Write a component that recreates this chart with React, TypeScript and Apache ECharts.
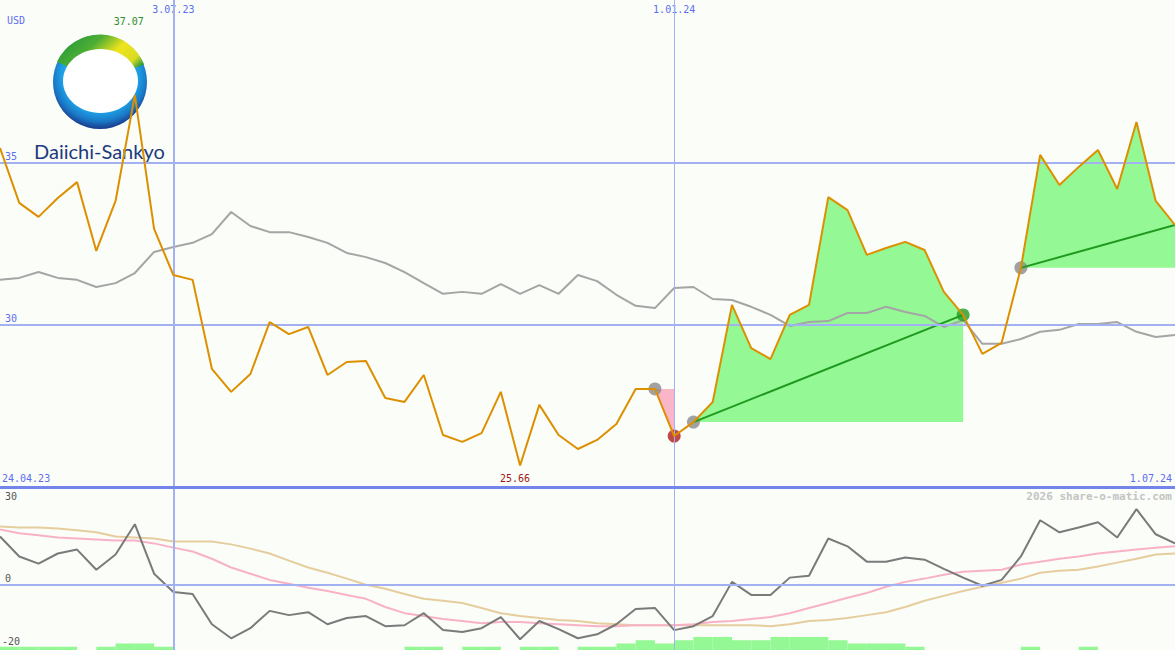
import { useEffect, useRef } from "react";
import * as echarts from "echarts";

// ---------- data ----------
const dates = [
  "1.05.23", "8.05.23", "15.05.23", "22.05.23", "29.05.23", "5.06.23", "12.06.23", "19.06.23", "26.06.23", "3.07.23",
  "10.07.23", "17.07.23", "24.07.23", "31.07.23", "7.08.23", "14.08.23", "21.08.23", "28.08.23", "4.09.23", "11.09.23",
  "18.09.23", "25.09.23", "2.10.23", "9.10.23", "16.10.23", "23.10.23", "30.10.23", "6.11.23", "13.11.23", "20.11.23",
  "27.11.23", "4.12.23", "11.12.23", "18.12.23", "25.12.23", "1.01.24", "8.01.24", "15.01.24", "22.01.24", "29.01.24",
  "5.02.24", "12.02.24", "19.02.24", "26.02.24", "4.03.24", "11.03.24", "18.03.24", "25.03.24", "1.04.24", "8.04.24",
  "15.04.24", "22.04.24", "29.04.24", "6.05.24", "13.05.24", "20.05.24", "27.05.24", "3.06.24", "10.06.24", "17.06.24",
  "24.06.24", "1.07.24",
];

const price = [
  35.44, 33.75, 33.32, 33.9, 34.39, 32.27, 33.81, 37.07, 32.95, 31.53,
  31.38, 28.64, 27.93, 28.48, 30.08, 29.71, 29.93, 28.45, 28.85, 28.88,
  27.74, 27.62, 28.45, 26.6, 26.39, 26.66, 27.93, 25.66, 27.53, 26.6,
  26.17, 26.45, 26.94, 28.02, 28.02, 26.57, 27.0, 27.62, 30.61, 29.28,
  28.94, 30.3, 30.61, 33.93, 33.53, 32.15, 32.36, 32.55, 32.3, 31.01,
  30.3, 29.1, 29.44, 31.75, 35.23, 34.3, 34.86, 35.38, 34.18, 36.24,
  33.81, 33.07,
];

const priceAverage = [
  31.38, 31.44, 31.62, 31.44, 31.38, 31.16, 31.28, 31.59, 32.24, 32.39,
  32.52, 32.79, 33.47, 33.04, 32.85, 32.85, 32.7, 32.52, 32.21, 32.08,
  31.9, 31.62, 31.28, 30.95, 31.01, 30.95, 31.25, 30.95, 31.22, 30.95,
  31.53, 31.34, 30.92, 30.58, 30.51, 31.13, 31.16, 30.79, 30.76, 30.55,
  30.3, 29.96, 30.08, 30.11, 30.36, 30.36, 30.55, 30.39, 30.27, 29.93,
  30.14, 29.41, 29.41, 29.56, 29.78, 29.84, 30.02, 30.02, 30.08, 29.78,
  29.62, 29.68,
];

const oscillator = [
  14.8, 8.7, 6.5, 9.6, 10.8, 4.6, 9.3, 18.6, 3.4, -2.2,
  -2.8, -12.1, -16.4, -13.3, -8.0, -9.3, -8.4, -12.1, -10.2, -9.6,
  -12.7, -12.4, -8.7, -13.9, -14.5, -13.3, -9.9, -16.7, -11.1, -13.6,
  -16.4, -15.2, -12.1, -7.4, -7.1, -13.9, -12.7, -9.6, 0.9, -3.1,
  -3.1, 2.2, 2.8, 14.2, 11.8, 7.1, 7.1, 8.4, 7.7, 4.9,
  2.2, -0.3, 1.5, 8.7, 19.8, 16.1, 17.6, 19.2, 14.5, 23.2,
  15.5, 12.7,
];

const oscillatorFast = [
  17.0, 15.8, 15.2, 14.5, 14.2, 13.9, 13.6, 13.6, 12.7, 11.4,
  10.2, 8.0, 5.3, 3.4, 1.5, 0.3, -0.9, -1.9, -3.1, -4.3,
  -6.8, -8.7, -9.6, -10.5, -11.1, -11.8, -11.4, -11.4, -11.8, -12.1,
  -12.4, -12.7, -12.7, -12.4, -12.4, -12.4, -12.1, -11.4, -11.1, -10.5,
  -9.9, -8.7, -7.1, -5.6, -4.0, -2.5, -0.6, 0.9, 1.9, 3.1,
  4.0, 4.3, 4.6, 6.2, 7.1, 8.0, 8.7, 9.6, 10.2, 10.8,
  11.4, 11.8,
];

const oscillatorSlow = [
  17.9, 17.6, 17.6, 17.3, 16.7, 16.1, 14.8, 14.5, 14.2, 13.3,
  13.3, 13.3, 12.4, 11.1, 9.6, 7.4, 5.3, 3.7, 1.9, 0.0,
  -1.2, -2.8, -4.3, -4.9, -5.6, -7.1, -8.7, -9.6, -10.2, -10.8,
  -11.1, -11.8, -12.1, -12.4, -12.4, -12.4, -12.4, -12.4, -12.4, -12.4,
  -12.7, -12.1, -11.1, -10.8, -10.2, -9.3, -8.4, -6.8, -4.9, -3.4,
  -1.9, -0.6, 0.6, 1.9, 3.7, 4.3, 4.6, 5.6, 6.8, 8.0,
  9.3, 9.6,
];

// one bar per week interval (between two consecutive dates)
const weeklyBars = [
  1, 1, 1, 1, 0, 1, 2, 2, 1, 0,
  0, 0, 0, 0, 0, 0, 0, 0, 0, 0,
  0, 1, 1, 0, 1, 1, 0, 1, 1, 0,
  1, 1, 2, 3, 2, 3, 4, 4, 3, 3,
  4, 4, 4, 3, 2, 2, 2, 1, 0, 0,
  0, 0, 0, 1, 0, 0, 1, 0, 0, 0,
  0,
];

const markerDates = ["3.07.23", "1.01.24"];
const sellSignal = ["25.12.23", "1.01.24"];
const buySignals = [
  ["8.01.24", "15.04.24"],
  ["6.05.24", "1.07.24"],
];
const priceAxisTicks = [25, 40, 5];
const oscAxisTicks = [-20, 30, 10];
const oscTickLabels = ["30", "0", "-20"];
const startLabel = "24.04.23";
const endLabel = "1.07.24";
const currency = "USD";
const watermark = "2026 share-o-matic.com";
const companyName = "Daiichi-Sankyo";

// ---------- styles ----------
const MONO = '"DejaVu Sans Mono", monospace';
const BLUE_TEXT = "#5b6ef0";
const GRID_BLUE = "#a3b0f2";
const SEP_BLUE = "#7384ea";
const BG = "#fbfdf9";

export default function App() {
  const ref = useRef<HTMLDivElement>(null);

  useEffect(() => {
    if (!ref.current) return;
    const chart = echarts.init(ref.current, null, { renderer: "svg" });
    const idx = (d: string) => dates.indexOf(d);
    const seg = (a: string, b: string) => {
      const i0 = idx(a);
      const i1 = idx(b);
      return price.slice(i0, i1 + 1).map((v, k) => [i0 + k, v]);
    };
    let maxIdx = 0;
    let minIdx = 0;
    price.forEach((v, i) => {
      if (v > price[maxIdx]) maxIdx = i;
      if (v < price[minIdx]) minIdx = i;
    });

    const areaSeries: any[] = [];
    const trendSeries: any[] = [];
    const dots: any[] = [];
    {
      const a = idx(sellSignal[0]);
      const b = idx(sellSignal[1]);
      areaSeries.push({
        type: "line",
        xAxisIndex: 0,
        yAxisIndex: 0,
        data: seg(sellSignal[0], sellSignal[1]),
        symbol: "none",
        lineStyle: { width: 0 },
        areaStyle: { color: "#f9b6c9", opacity: 1, origin: price[a] },
        z: 1,
        silent: true,
      });
      dots.push({ value: [a, price[a]], itemStyle: { color: "#8a8a8a" } });
      dots.push({ value: [b, price[b]], itemStyle: { color: "#b01c1c" } });
    }
    buySignals.forEach(([s, e], k) => {
      const a = idx(s);
      const b = idx(e);
      areaSeries.push({
        type: "line",
        xAxisIndex: 0,
        yAxisIndex: 0,
        data: seg(s, e),
        symbol: "none",
        lineStyle: { width: 0 },
        areaStyle: { color: "#94f894", opacity: 1, origin: price[a] },
        z: 1,
        silent: true,
      });
      trendSeries.push({
        type: "line",
        xAxisIndex: 0,
        yAxisIndex: 0,
        data: [
          [a, price[a]],
          [b, price[b]],
        ],
        symbol: "none",
        lineStyle: { color: "#1f9a1f", width: 2 },
        z: 4,
        silent: true,
      });
      dots.push({ value: [a, price[a]], itemStyle: { color: "#8a8a8a" } });
      if (k === 0) dots.push({ value: [b, price[b]], itemStyle: { color: "#239a23" } });
    });

    const vLines = markerDates.map((d, k) => ({
      xAxis: d,
      lineStyle: { color: GRID_BLUE, width: k === 0 ? 2 : 1, type: "solid" },
    }));

    const option: any = {
      animation: false,
      backgroundColor: BG,
      grid: [
        { left: 0, right: 0, top: 0, height: 487 },
        { left: 0, right: 0, top: 487, bottom: 0 },
      ],
      xAxis: [
        {
          gridIndex: 0,
          type: "category",
          data: dates,
          boundaryGap: false,
          position: "top",
          axisLine: { show: false, onZero: false },
          axisTick: { show: false },
          splitLine: { show: false },
          axisLabel: {
            inside: true,
            interval: (i: number, v: string) => markerDates.includes(v),
            color: BLUE_TEXT,
            fontFamily: MONO,
            fontSize: 10,
            margin: 4,
          },
        },
        {
          gridIndex: 1,
          type: "category",
          data: dates,
          boundaryGap: false,
          position: "top",
          axisLine: { show: true, onZero: false, lineStyle: { color: SEP_BLUE, width: 3 } },
          axisTick: { show: false },
          axisLabel: { show: false },
          splitLine: { show: false },
          z: 5,
        },
        {
          gridIndex: 1,
          type: "category",
          data: dates.slice(0, dates.length - 1),
          boundaryGap: true,
          show: false,
          axisLine: { onZero: false },
        },
      ],
      yAxis: [
        {
          gridIndex: 0,
          type: "value",
          min: priceAxisTicks[0],
          max: priceAxisTicks[1],
          interval: priceAxisTicks[2],
          axisLine: { show: false },
          axisTick: { show: false },
          splitLine: { show: false },
          axisLabel: {
            inside: true,
            showMinLabel: false,
            showMaxLabel: false,
            color: BLUE_TEXT,
            fontFamily: MONO,
            fontSize: 10,
            align: "left",
            verticalAlign: "bottom",
            margin: 5,
            padding: [0, 0, 1, 0],
          },
        },
        {
          gridIndex: 1,
          type: "value",
          min: oscAxisTicks[0],
          max: oscAxisTicks[1],
          interval: oscAxisTicks[2],
          show: false,
          splitLine: { show: false },
        },
        {
          gridIndex: 1,
          type: "value",
          min: 0,
          max: 50,
          show: false,
          splitLine: { show: false },
        },
      ],
      series: [
        {
          type: "line",
          xAxisIndex: 0,
          yAxisIndex: 0,
          data: [],
          z: 0,
          silent: true,
          markLine: {
            silent: true,
            symbol: "none",
            label: { show: false },
            data: [
              { yAxis: 30, lineStyle: { color: GRID_BLUE, width: 2, type: "solid" } },
              { yAxis: 35, lineStyle: { color: GRID_BLUE, width: 2, type: "solid" } },
              ...vLines,
            ],
          },
        },
        ...areaSeries,
        {
          type: "line",
          xAxisIndex: 0,
          yAxisIndex: 0,
          data: priceAverage,
          symbol: "none",
          lineStyle: { color: "#a5a5a5", width: 2 },
          z: 2,
          silent: true,
        },
        {
          type: "scatter",
          xAxisIndex: 0,
          yAxisIndex: 0,
          data: dots,
          symbolSize: 13,
          z: 3,
          silent: true,
        },
        ...trendSeries,
        {
          type: "line",
          xAxisIndex: 0,
          yAxisIndex: 0,
          data: price,
          symbol: "none",
          lineStyle: { color: "#dc9000", width: 2 },
          z: 5,
          silent: true,
          markPoint: {
            silent: true,
            symbol: "circle",
            symbolSize: 0,
            label: {
              show: true,
              position: "inside",
              fontFamily: MONO,
              fontSize: 10,
              formatter: (p: any) => Number(p.value).toFixed(2),
            },
            data: [
              {
                coord: [dates[maxIdx], priceAxisTicks[1]],
                value: price[maxIdx],
                label: { color: "#2e8b2e", offset: [-6, 21] },
              },
              {
                coord: [dates[minIdx], priceAxisTicks[0]],
                value: price[minIdx],
                label: { color: "#a01818", offset: [-5, -9] },
              },
            ],
          },
        },
        // lower panel
        {
          type: "line",
          xAxisIndex: 1,
          yAxisIndex: 1,
          data: [],
          z: 0,
          silent: true,
          markLine: {
            silent: true,
            symbol: "none",
            label: { show: false },
            data: [
              { yAxis: 0, lineStyle: { color: GRID_BLUE, width: 2, type: "solid" } },
              ...vLines,
            ],
          },
        },
        {
          type: "bar",
          xAxisIndex: 2,
          yAxisIndex: 2,
          data: weeklyBars,
          barWidth: "100%",
          barCategoryGap: 0,
          itemStyle: { color: "#94f894" },
          z: 1,
          silent: true,
        },
        {
          type: "line",
          xAxisIndex: 1,
          yAxisIndex: 1,
          data: oscillatorSlow,
          symbol: "none",
          lineStyle: { color: "#e6cd9e", width: 2 },
          z: 2,
          silent: true,
        },
        {
          type: "line",
          xAxisIndex: 1,
          yAxisIndex: 1,
          data: oscillatorFast,
          symbol: "none",
          lineStyle: { color: "#f8b2c8", width: 2 },
          z: 3,
          silent: true,
        },
        {
          type: "line",
          xAxisIndex: 1,
          yAxisIndex: 1,
          data: oscillator,
          symbol: "none",
          lineStyle: { color: "#7a7a7a", width: 2 },
          z: 4,
          silent: true,
        },
      ],
      graphic: [
        {
          type: "group",
          z: 1,
          silent: true,
          children: [
            {
              type: "circle",
              shape: { cx: 100, cy: 82, r: 47 },
              style: {
                fill: {
                  type: "radial",
                  x: 0.5,
                  y: 0.42,
                  r: 0.58,
                  colorStops: [
                    { offset: 0, color: "#34b0ee" },
                    { offset: 0.7, color: "#1ea0e6" },
                    { offset: 0.86, color: "#1a78c6" },
                    { offset: 1, color: "#1a3a8c" },
                  ],
                },
              },
            },
            {
              type: "sector",
              shape: {
                cx: 100,
                cy: 82,
                r0: 0,
                r: 47.5,
                startAngle: -Math.PI * 0.86,
                endAngle: -Math.PI * 0.12,
                clockwise: true,
              },
              style: {
                fill: {
                  type: "linear",
                  x: 0,
                  y: 0,
                  x2: 1,
                  y2: 0.6,
                  colorStops: [
                    { offset: 0, color: "#14913c" },
                    { offset: 0.4, color: "#4eae34" },
                    { offset: 0.65, color: "#eee41c" },
                    { offset: 0.88, color: "#dadc22" },
                    { offset: 1, color: "#2c9c3a" },
                  ],
                },
              },
            },
            {
              type: "ellipse",
              shape: { cx: 100.5, cy: 81, rx: 37.5, ry: 32 },
              style: { fill: "#ffffff" },
            },
            {
              type: "text",
              x: 34,
              y: 161,
              style: {
                text: companyName,
                font: '20px Lato, "Open Sans", sans-serif',
                fill: "#1c3a7e",
                textAlign: "left",
                textVerticalAlign: "bottom",
              },
            },
          ],
        },
        {
          type: "text",
          x: 7,
          y: 20,
          z: 6,
          silent: true,
          style: { text: currency, font: `10px ${MONO}`, fill: BLUE_TEXT, textAlign: "left", textVerticalAlign: "middle" },
        },
        {
          type: "text",
          x: 2,
          y: 478,
          z: 6,
          silent: true,
          style: { text: startLabel, font: `10px ${MONO}`, fill: BLUE_TEXT, textAlign: "left", textVerticalAlign: "middle" },
        },
        {
          type: "text",
          x: 1172,
          y: 478,
          z: 6,
          silent: true,
          style: { text: endLabel, font: `10px ${MONO}`, fill: BLUE_TEXT, textAlign: "right", textVerticalAlign: "middle" },
        },
        {
          type: "text",
          x: 1172,
          y: 496,
          z: 6,
          silent: true,
          style: { text: watermark, font: `bold 11px ${MONO}`, fill: "#c4c4c4", textAlign: "right", textVerticalAlign: "middle" },
        },
        {
          type: "text",
          x: 5,
          y: 496,
          z: 6,
          silent: true,
          style: { text: oscTickLabels[0], font: `10px ${MONO}`, fill: "#555555", textAlign: "left", textVerticalAlign: "middle" },
        },
        {
          type: "text",
          x: 5,
          y: 578,
          z: 6,
          silent: true,
          style: { text: oscTickLabels[1], font: `10px ${MONO}`, fill: "#555555", textAlign: "left", textVerticalAlign: "middle" },
        },
        {
          type: "text",
          x: 2,
          y: 641,
          z: 6,
          silent: true,
          style: { text: oscTickLabels[2], font: `10px ${MONO}`, fill: "#555555", textAlign: "left", textVerticalAlign: "middle" },
        },
      ],
    };

    chart.setOption(option);
    return () => chart.dispose();
  }, []);

  return (
    <div
      ref={ref}
      style={{ position: "fixed", left: 0, top: 0, width: 1175, height: 650 }}
    />
  );
}
